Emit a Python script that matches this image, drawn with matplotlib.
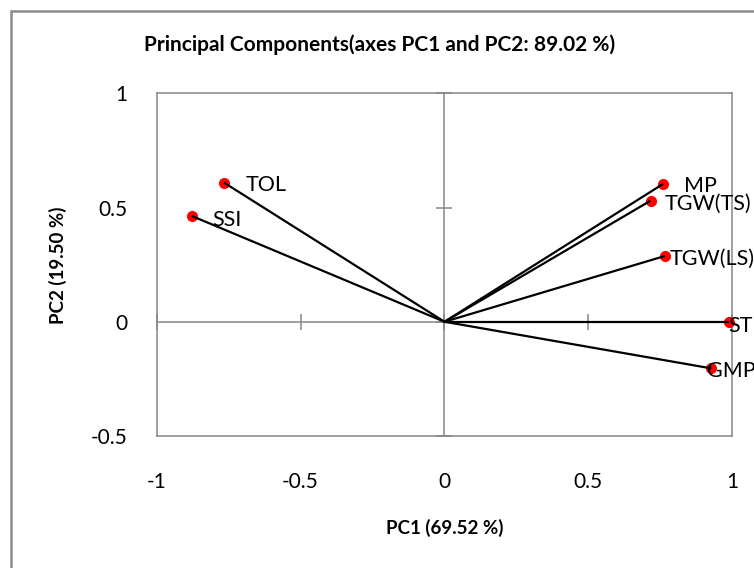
import matplotlib
matplotlib.use("Agg")
import matplotlib.pyplot as plt
from matplotlib.patches import Rectangle

# ---- data ----
labels = ["TOL", "SSI", "MP", "TGW(TS)", "TGW(LS)", "STI", "GMP"]
pc1 = [-0.766, -0.878, 0.759, 0.716, 0.766, 0.990, 0.927]
pc2 = [0.609, 0.463, 0.603, 0.530, 0.288, 0.000, -0.204]
x_ticks = [-1, -0.5, 0, 0.5, 1]
y_ticks = [-0.5, 0, 0.5, 1]
title = "Principal Components(axes PC1 and PC2: 89.02 %)"
xlabel = "PC1 (69.52 %)"
ylabel = "PC2 (19.50 %)"

# ---- styling ----
label_offsets = {  # pixel offsets of the data labels (dx, dy)
    "TOL": (22, 0), "SSI": (20, -2), "MP": (21, 0), "TGW(TS)": (14, -1),
    "TGW(LS)": (5, -1), "STI": (-1, -2), "GMP": (-4, -1),
}
GRAY = "#868686"
plt.rcParams["font.family"] = ["Lato", "DejaVu Sans"]

W, H, DPI = 754, 568, 100
fig = plt.figure(figsize=(W / DPI, H / DPI), dpi=DPI)
fig.patch.set_facecolor("white")

# outer chart border (extends beyond the image on the right/bottom)
fig.patches.append(Rectangle((10.6 / W, -0.1), 1.2, 1.1 - 11 / H,
                             transform=fig.transFigure, fill=False,
                             edgecolor="#8c8c8c", linewidth=1.8))

left, right, top, bottom = 156.7, 732.3, 93.3, 436.0
ax = fig.add_axes([left / W, 1 - bottom / H, (right - left) / W, (bottom - top) / H])
ax.set_xlim(x_ticks[0], x_ticks[-1])
ax.set_ylim(y_ticks[0], y_ticks[-1])
for s in ax.spines.values():
    s.set_color(GRAY)
    s.set_linewidth(1.1)

ax.set_xticks(x_ticks)
ax.set_yticks(y_ticks)
ax.set_xticklabels([f"{v:g}" for v in x_ticks])
ax.set_yticklabels([f"{v:g}" for v in y_ticks])
ax.tick_params(axis="x", length=0, pad=26, labelsize=15)
ax.tick_params(axis="y", length=0, pad=21, labelsize=15)

# axes through the origin with crossing tick marks
ax.axhline(0, color=GRAY, lw=1.1, zorder=1)
ax.axvline(0, color=GRAY, lw=1.1, zorder=1)
ax.plot(x_ticks, [0] * len(x_ticks), ls="none", marker="|", ms=12,
        mew=1.1, color=GRAY, zorder=1, clip_on=False)
ax.plot([0] * len(y_ticks), y_ticks, ls="none", marker="_", ms=12,
        mew=1.1, color=GRAY, zorder=1, clip_on=False)

# vectors
for x, y in zip(pc1, pc2):
    ax.plot([x], [y], ls="none", marker="o", ms=7, color="#ff0000",
            mec="#ff0000", zorder=3, clip_on=False)
    ax.plot([0, x], [0, y], color="black", lw=1.6, zorder=4,
            solid_capstyle="butt", clip_on=False)

for lab, x, y in zip(labels, pc1, pc2):
    dx, dy = label_offsets[lab]
    ax.annotate(lab, (x, y), xytext=(dx * 0.72, dy * 0.72),
                textcoords="offset points", ha="left", va="center_baseline",
                fontsize=15.5, color="black", zorder=5, annotation_clip=False)

fig.text(380 / W, 1 - 45 / H, title, ha="center", va="center",
         fontsize=15, fontweight="bold")
fig.text(444.7 / W, 1 - 528 / H, xlabel, ha="center", va="center",
         fontsize=13.5, fontweight="bold")
fig.text(58 / W, 1 - 265 / H, ylabel, ha="center", va="center",
         fontsize=13.5, fontweight="bold", rotation=90)

fig.savefig("out.png", dpi=DPI, facecolor="white")
